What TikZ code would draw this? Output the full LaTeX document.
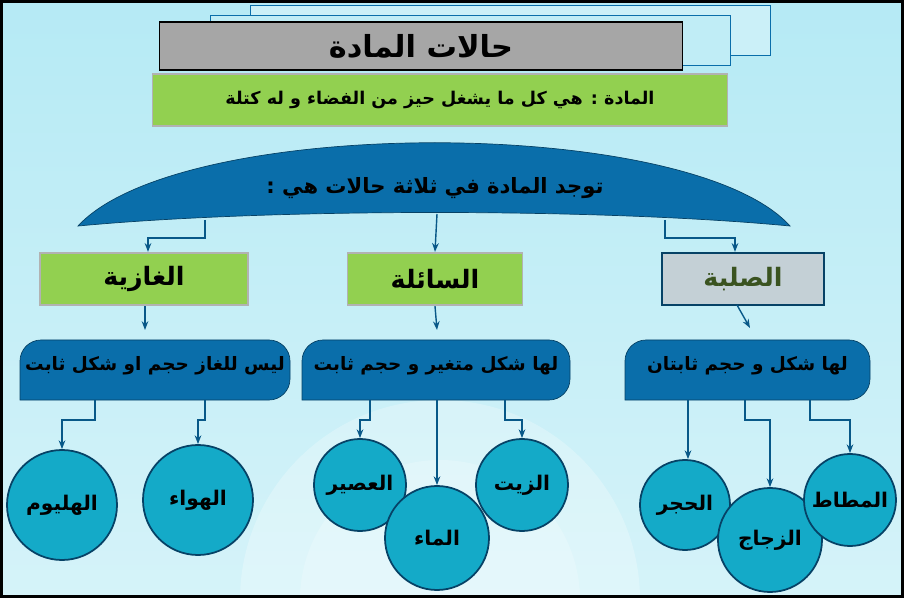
\documentclass[tikz,border=0pt]{standalone}
\usepackage{fontspec}
\newfontfamily\arabicfont[Script=Arabic]{DejaVu Sans}
\TeXXeTstate=1
\usetikzlibrary{arrows.meta}
\definecolor{archblue}{RGB}{10,110,170}
\definecolor{boxgreen}{RGB}{146,208,80}
\definecolor{circteal}{RGB}{20,170,200}
\definecolor{bgcyan}{RGB}{150,225,240}
\newcommand{\ar}[1]{\arabicfont\bfseries\beginR #1\endR}

\begin{document}
\begin{tikzpicture}[x=0.02cm, y=-0.02cm,
  greenbox/.style={draw=gray!60, line width=1pt, fill=boxgreen, minimum width=#1*0.02cm, minimum height=1.05cm, font=\large},
  link/.style={draw=archblue!80!black, line width=0.8pt, -{Stealth[length=5pt]}},
  ball/.style={circle, draw=archblue!60!black, line width=1pt, fill=circteal, minimum size=#1*0.02cm, font=\fontsize{11.5}{13}\selectfont}]
\useasboundingbox (0,0) rectangle (904,598);
% Background
\shade[top color=bgcyan!70, bottom color=bgcyan!40] (0,0) rectangle (904,598);
\begin{scope}
\clip (0,0) rectangle (904,598);
\fill[white, opacity=0.25] (440,600) circle (200);
\fill[white, opacity=0.2] (440,600) circle (140);
\end{scope}
\draw[line width=2pt] (1,1) rectangle (903,597);

% Title boxes
\draw[archblue, fill=bgcyan!50] (250,5) rectangle (770,55);
\draw[archblue, fill=bgcyan!60] (210,15) rectangle (730,65);
\node[draw, line width=1pt, fill=gray!70, minimum width=10.46cm, minimum height=0.96cm, font=\LARGE] (title) at (421,46) {\ar{حالات المادة}};
\node[greenbox=575] (def) at (440,100) {\normalsize\ar{المادة : هي كل ما يشغل حيز من الفضاء و له كتلة}};

% Arch
\fill[archblue, draw=archblue!60!black] (78,226) .. controls (180,115) and (690,115) .. (790,226) .. controls (600,208) and (270,208) .. cycle;
\node[font=\large] (arch) at (435,188) {\ar{توجد المادة في ثلاثة حالات هي :}};
\coordinate (a1) at (205,220);
\coordinate (a2) at (437,214);
\coordinate (a3) at (665,220);

% States
\node[greenbox=208, font=\Large] (gas) at (144,279) {\ar{الغازية}};
\node[greenbox=175, font=\Large] (liq) at (435,279) {\ar{السائلة}};
\node[greenbox=162, font=\Large, fill=cyan!20!gray!45, draw=archblue!60!black, text=boxgreen!40!black] (sol) at (743,279) {\ar{الصلبة}};
\draw[link] (a1) |- (148,238) -- (gas.north -| 148,0);
\draw[link] (a2) -- (liq.north);
\draw[link] (a3) |- (735,238) -- (sol.north -| 735,0);

% Descriptions
\foreach \x/\y/\w/\nm/\txt in {20/340/270/dgas/ليس للغاز حجم او شكل ثابت,
  302/340/268/dliq/لها شكل متغير و حجم ثابت,
  625/340/245/dsol/لها شكل و حجم ثابتان} {
  \fill[archblue, draw=archblue!60!black, rounded corners=12pt] (\x,\y+60) -- (\x,\y) -- (\x+\w,\y) -- (\x+\w,\y+60) [sharp corners]-- cycle;
  \node[font=\fontsize{10.5}{12}\selectfont] (\nm) at (\x+\w/2,\y+26) {\ar{\txt}};
}
\draw[link] (gas.south -| 145,0) -- (145,330);
\draw[link] (liq.south) -- (437,330);
\draw[link] (737,305) -- (750,328);

% Examples
\node[ball=110] (he) at (62,505) {\ar{الهليوم}};
\node[ball=110] (air) at (198,500) {\ar{الهواء}};
\node[ball=92] (juice) at (360,485) {\ar{العصير}};
\node[ball=104] (water) at (437,538) {\ar{الماء}};
\node[ball=92] (oil) at (522,485) {\ar{الزيت}};
\node[ball=90] (stone) at (685,505) {\ar{الحجر}};
\node[ball=104] (glass) at (770,540) {\ar{الزجاج}};
\node[ball=92] (rubber) at (850,500) {\ar{المطاط}};

\draw[link] (95,400) |- (62,420) -- (he.north);
\draw[link] (205,400) |- (198,420) -- (air.north);
\draw[link] (370,400) |- (360,420) -- (juice.north);
\draw[link] (437,400) -- (water.north);
\draw[link] (505,400) |- (522,420) -- (oil.north);
\draw[link] (688,400) -- (stone.north -| 688,0);
\draw[link] (745,400) |- (770,420) -- (glass.north);
\draw[link] (810,400) |- (850,420) -- (rubber.north);
\end{tikzpicture}
\end{document}
